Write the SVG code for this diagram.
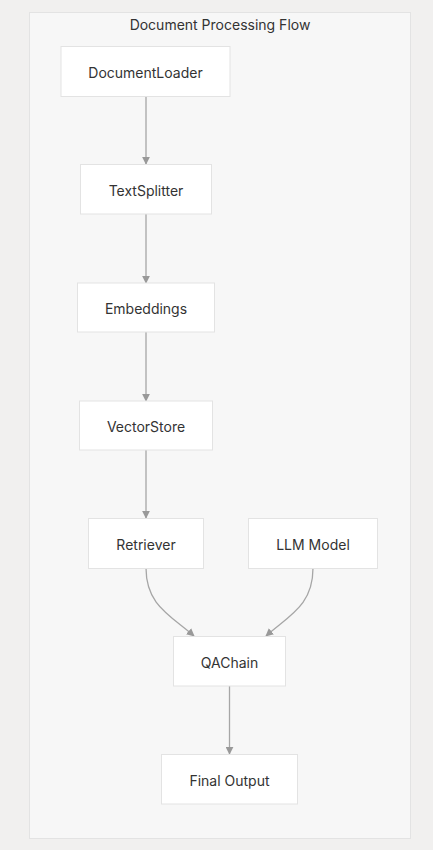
<svg xmlns="http://www.w3.org/2000/svg" width="433" height="850" viewBox="0 0 433 850">
<defs>
<style>
.node rect{fill:#ffffff;stroke:#e3e3e3;stroke-width:1}
.node text{font-family:Inter,"Noto Sans",sans-serif;font-size:14px;fill:#333333;text-anchor:middle;dominant-baseline:central}
.edge{fill:none;stroke:#a6a6a6;stroke-width:1.3}
</style>
<marker id="arr" viewBox="0 0 10 10" refX="9" refY="5" markerWidth="8" markerHeight="8" markerUnits="userSpaceOnUse" orient="auto">
<path d="M0,0 L10,5 L0,10 z" fill="#999999"/>
</marker>
</defs>
<rect x="0" y="0" width="433" height="850" fill="#f1f0ef"/>
<g id="cluster">
<rect x="29.5" y="12.5" width="381" height="826" fill="#f7f7f7" stroke="#e3e3e3"/>
<text x="220" y="24" font-family="Inter,'Noto Sans',sans-serif" font-size="14" fill="#333333" text-anchor="middle" dominant-baseline="central">Document Processing Flow</text>
</g>
<g id="connectors">
<path class="edge" d="M146,96 V164" marker-end="url(#arr)"/>
<path class="edge" d="M146,214 V283" marker-end="url(#arr)"/>
<path class="edge" d="M146,332 V401" marker-end="url(#arr)"/>
<path class="edge" d="M146,450 V518" marker-end="url(#arr)"/>
<path class="edge" d="M146,568 C146,605 170,615 194,636" marker-end="url(#arr)"/>
<path class="edge" d="M313,568 C313,605 290,615 266,636" marker-end="url(#arr)"/>
<path class="edge" d="M229.5,686 V754" marker-end="url(#arr)"/>
</g>
<g id="DocumentLoader" class="node"><rect x="61" y="46.5" width="169" height="50"/><text x="145.5" y="72">DocumentLoader</text></g>
<g id="TextSplitter" class="node"><rect x="80.5" y="164.5" width="131" height="49.5"/><text x="146" y="190">TextSplitter</text></g>
<g id="Embeddings" class="node"><rect x="77.5" y="283" width="137" height="49"/><text x="146" y="308">Embeddings</text></g>
<g id="VectorStore" class="node"><rect x="79.5" y="401" width="133" height="49"/><text x="146" y="426">VectorStore</text></g>
<g id="Retriever" class="node"><rect x="88.5" y="518.5" width="115" height="50"/><text x="146" y="544">Retriever</text></g>
<g id="LLMModel" class="node"><rect x="248.5" y="518.5" width="129" height="50"/><text x="313" y="544">LLM Model</text></g>
<g id="QAChain" class="node"><rect x="173.5" y="636.5" width="112" height="49.5"/><text x="229.5" y="662">QAChain</text></g>
<g id="FinalOutput" class="node"><rect x="161.5" y="754.5" width="136" height="49.5"/><text x="229.5" y="780">Final Output</text></g>
</svg>
